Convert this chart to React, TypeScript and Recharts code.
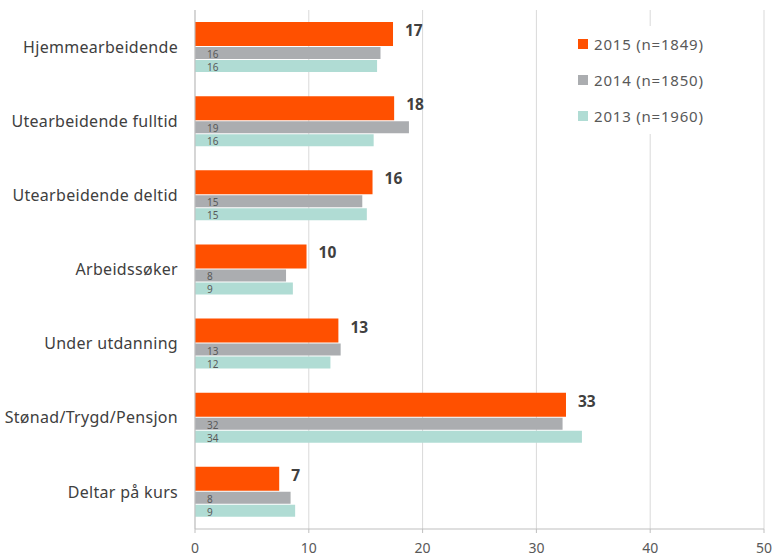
import React from 'react';
import {
  BarChart,
  Bar,
  XAxis,
  YAxis,
  CartesianGrid,
  LabelList,
} from 'recharts';

const categories = [
  'Hjemmearbeidende',
  'Utearbeidende fulltid',
  'Utearbeidende deltid',
  'Arbeidssøker',
  'Under utdanning',
  'Stønad/Trygd/Pensjon',
  'Deltar på kurs',
];

const values2015 = [17.4, 17.5, 15.6, 9.8, 12.6, 32.6, 7.4];
const values2014 = [16.3, 18.8, 14.7, 8.0, 12.8, 32.3, 8.4];
const values2013 = [16.0, 15.7, 15.1, 8.6, 11.9, 34.0, 8.8];

const xTicks = [0, 10, 20, 30, 40, 50];

const seriesInfo = [
  { key: 'y2015', name: '2015 (n=1849)', color: '#FF5000' },
  { key: 'y2014', name: '2014 (n=1850)', color: '#ABADB0' },
  { key: 'y2013', name: '2013 (n=1960)', color: '#B0DCD4' },
];

const data = categories.map((name, i) => ({
  name,
  y2015: values2015[i],
  y2014: values2014[i],
  y2013: values2013[i],
}));

const font = '"Noto Sans", "Open Sans", sans-serif';

const BigLabel = (props: any) => {
  const { x, y, width, height, value } = props;
  return (
    <text
      x={x + width + 12}
      y={y + height / 2 - 4}
      fontSize={15.5}
      fontWeight="bold"
      fill="#404040"
      fontFamily={font}
      dominantBaseline="central"
    >
      {Math.round(value)}
    </text>
  );
};

const SmallLabel = (props: any) => {
  const { x, y, height, value } = props;
  return (
    <text
      x={x + 12}
      y={y + height / 2 + 1}
      fontSize={10}
      fill="#595959"
      fontFamily={font}
      dominantBaseline="central"
    >
      {Math.round(value)}
    </text>
  );
};

export default function App() {
  return (
    <div style={{ position: 'absolute', left: 0, top: 0, width: 773, height: 560, background: '#fff' }}>
      <BarChart
        width={773}
        height={560}
        data={data}
        layout="vertical"
        margin={{ top: 10, right: 9, bottom: 0, left: 0 }}
        barGap={1}
      >
        <CartesianGrid horizontal={false} stroke="#D9D9D9" />
        <XAxis
          type="number"
          domain={[0, 50]}
          ticks={xTicks}
          height={31}
          axisLine={{ stroke: '#BFBFBF' }}
          tickLine={{ stroke: '#BFBFBF' }}
          tickSize={4}
          tickMargin={10}
          tick={{ fill: '#595959', fontSize: 14, fontFamily: font }}
        />
        <YAxis
          type="category"
          dataKey="name"
          width={195}
          axisLine={{ stroke: '#BFBFBF' }}
          tickLine={false}
          tickMargin={11}
          tick={{ fill: '#404040', fontSize: 16, fontFamily: font, letterSpacing: 0.3 }}
        />
        <Bar dataKey="y2015" name={seriesInfo[0].name} fill={seriesInfo[0].color} barSize={24} isAnimationActive={false}>
          <LabelList dataKey="y2015" content={BigLabel} />
        </Bar>
        <Bar dataKey="y2014" name={seriesInfo[1].name} fill={seriesInfo[1].color} barSize={12} isAnimationActive={false}>
          <LabelList dataKey="y2014" content={SmallLabel} />
        </Bar>
        <Bar dataKey="y2013" name={seriesInfo[2].name} fill={seriesInfo[2].color} barSize={12} isAnimationActive={false}>
          <LabelList dataKey="y2013" content={SmallLabel} />
        </Bar>
      </BarChart>
      <div
        style={{
          position: 'absolute',
          left: 578,
          top: 26,
          fontFamily: font,
          fontSize: 15,
          letterSpacing: 0.8,
          color: '#595959',
          background: '#fff',
          padding: '0 8px 0 0',
        }}
      >
        {seriesInfo.map((s) => (
          <div key={s.key} style={{ display: 'flex', alignItems: 'center', height: 36 }}>
            <span
              style={{
                width: 10,
                height: 10,
                background: s.color,
                marginRight: 6,
                display: 'inline-block',
              }}
            />
            {s.name}
          </div>
        ))}
      </div>
    </div>
  );
}
